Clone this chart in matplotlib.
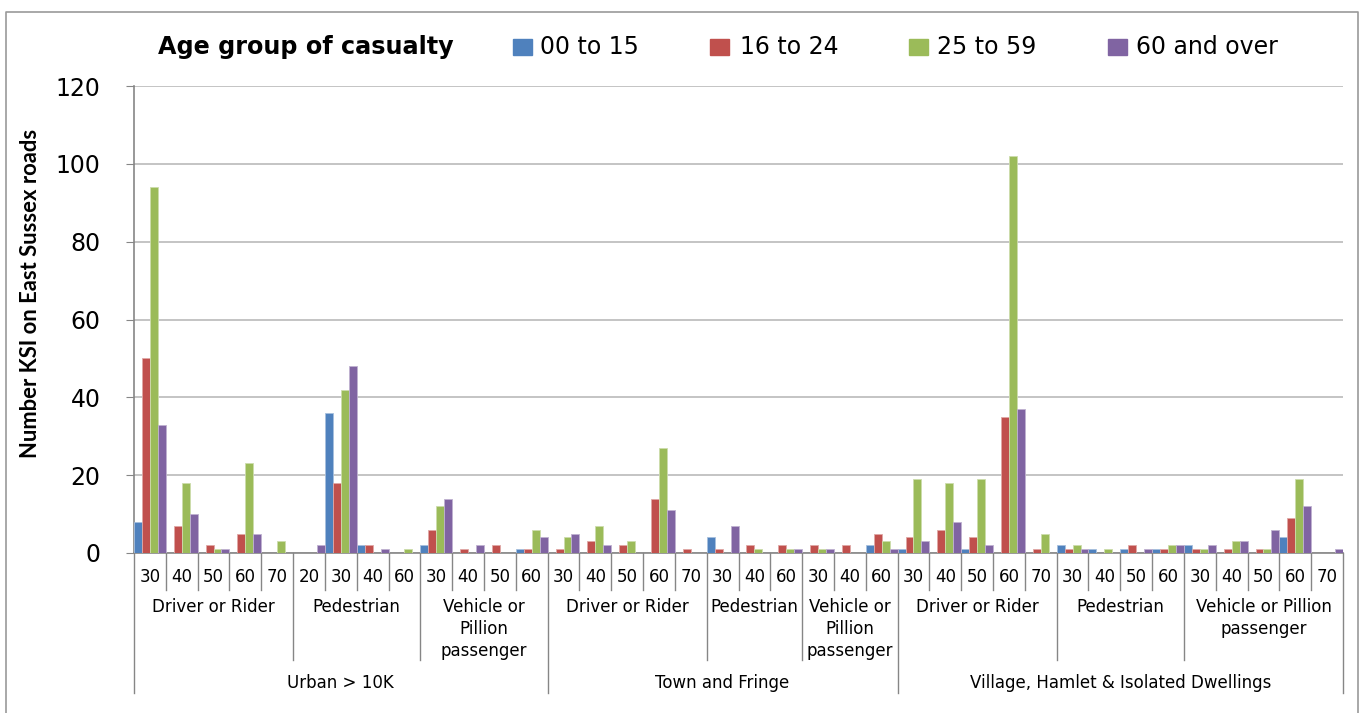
import matplotlib
matplotlib.use("Agg")
import matplotlib.pyplot as plt
from matplotlib.patches import Rectangle
from matplotlib.lines import Line2D

# Speed limits (mph) inside each road-user group, left to right
area_labels = ["Urban > 10K", "Town and Fringe", "Village, Hamlet & Isolated Dwellings"]
user_labels = [
    "Driver or Rider", "Pedestrian", "Vehicle or\nPillion\npassenger",
    "Driver or Rider", "Pedestrian", "Vehicle or\nPillion\npassenger",
    "Driver or Rider", "Pedestrian", "Vehicle or Pillion\npassenger",
]
group_area = [0, 0, 0, 1, 1, 1, 2, 2, 2]
speed_limits = [
    ["30", "40", "50", "60", "70"], ["20", "30", "40", "60"], ["30", "40", "50", "60"],
    ["30", "40", "50", "60", "70"], ["30", "40", "60"], ["30", "40", "60"],
    ["30", "40", "50", "60", "70"], ["30", "40", "50", "60"], ["30", "40", "50", "60", "70"],
]

# KSI counts per category, one list per age group
age_00_15 = [8, 0, 0, 0, 0, 0, 36, 2, 0, 2, 0, 0, 1,
             0, 0, 0, 0, 0, 4, 0, 0, 0, 0, 2,
             1, 0, 1, 0, 0, 2, 1, 1, 1, 2, 0, 0, 4, 0]
age_16_24 = [50, 7, 2, 5, 0, 0, 18, 2, 0, 6, 1, 2, 1,
             1, 3, 2, 14, 1, 1, 2, 2, 2, 2, 5,
             4, 6, 4, 35, 1, 1, 0, 2, 1, 1, 1, 1, 9, 0]
age_25_59 = [94, 18, 1, 23, 3, 0, 42, 0, 1, 12, 0, 0, 6,
             4, 7, 3, 27, 0, 0, 1, 1, 1, 0, 3,
             19, 18, 19, 102, 5, 2, 1, 0, 2, 1, 3, 1, 19, 0]
age_60_over = [33, 10, 1, 5, 0, 2, 48, 1, 0, 14, 2, 0, 4,
               5, 2, 0, 11, 0, 7, 0, 1, 1, 0, 1,
               3, 8, 2, 37, 0, 1, 0, 1, 2, 2, 3, 6, 12, 1]

series_names = ["00 to 15", "16 to 24", "25 to 59", "60 and over"]
series_values = [age_00_15, age_16_24, age_25_59, age_60_over]
colors = ["#4F81BD", "#C0504D", "#9BBB59", "#8064A2"]
edges = ["#A7C0DE", "#DFA8A6", "#CDDDAC", "#BFB1D0"]

W, H = 1370, 713
AXIS_GRAY = "#868686"

fig = plt.figure(figsize=(W / 100, H / 100), dpi=100)
ax = fig.add_axes([134 / W, 1 - 553 / H, (1343 - 134) / W, (553 - 86) / H])

n_cat = len(age_00_15)
bar_w = 0.25
for k, (vals, col, edge) in enumerate(zip(series_values, colors, edges)):
    xs = [i + bar_w * (k + 0.5) for i in range(n_cat)]
    ax.bar(xs, vals, width=bar_w, color=col, edgecolor=edge, linewidth=0.6, zorder=3)

ax.set_xlim(0, n_cat)
ax.set_ylim(0, 120)
ax.set_yticks(range(0, 121, 20))
ax.tick_params(axis="y", labelsize=17, length=6, color=AXIS_GRAY, pad=18)
ax.set_xticks([])
ax.yaxis.grid(True, color="#C4C4C4", linewidth=1.4, zorder=0)
ax.set_axisbelow(True)
for side in ("top", "right"):
    ax.spines[side].set_visible(False)
for side in ("left", "bottom"):
    ax.spines[side].set_color(AXIS_GRAY)
    ax.spines[side].set_linewidth(1.2)

# multi-level category axis underneath the plot
trans = ax.get_xaxis_transform()
LVL1, LVL2, LVL3 = -0.079, -0.229, -0.30


def vline(x, y_end):
    ax.add_line(Line2D([x, x], [0, y_end], transform=trans, color=AXIS_GRAY,
                       linewidth=1.0, clip_on=False))


pos = 0
area_start = {}
area_end = {}
for g, speeds in enumerate(speed_limits):
    start = pos
    for j, s in enumerate(speeds):
        ax.text(pos + 0.5, -0.051, s, transform=trans, ha="center", va="center",
                fontsize=12)
        if j > 0:
            vline(pos, LVL1)
        pos += 1
    ax.text((start + pos) / 2, -0.096, user_labels[g], transform=trans, ha="center",
            va="top", fontsize=12, linespacing=1.3, multialignment="center")
    a = group_area[g]
    area_start.setdefault(a, start)
    area_end[a] = pos
    if start != area_start[a]:
        vline(start, LVL2)

for a, label in enumerate(area_labels):
    vline(area_start[a], LVL3)
    ax.text((area_start[a] + area_end[a]) / 2, -0.278, label, transform=trans,
            ha="center", va="center", fontsize=12)
vline(n_cat, LVL3)

# y-axis title
fig.text(31 / W, 1 - 293 / H, "Number KSI on East Sussex roads", rotation=90,
         ha="center", va="center", fontsize=15.8, fontweight="bold", family="Lato")

# legend across the top
legend_y = 1 - 47 / H
fig.text(158 / W, legend_y, "Age group of casualty", ha="left", va="center",
         fontsize=17.2, fontweight="bold")
box_x = [513, 710, 909, 1108]
text_x = [540, 740, 937, 1136]
for bx, tx, name, col in zip(box_x, text_x, series_names, colors):
    fig.patches.append(Rectangle((bx / W, (H - 55) / H), 19 / W, 16 / H,
                                 transform=fig.transFigure, color=col))
    fig.text(tx / W, legend_y, name, ha="left", va="center", fontsize=17)

# chart frame
frame_x = [6 / W, 6 / W, 1358 / W, 1358 / W]
frame_y = [0, 1 - 12 / H, 1 - 12 / H, 0]
fig.add_artist(Line2D(frame_x, frame_y, transform=fig.transFigure,
                      color="#9A9A9A", linewidth=1.2))

fig.savefig("out.png", dpi=100)
